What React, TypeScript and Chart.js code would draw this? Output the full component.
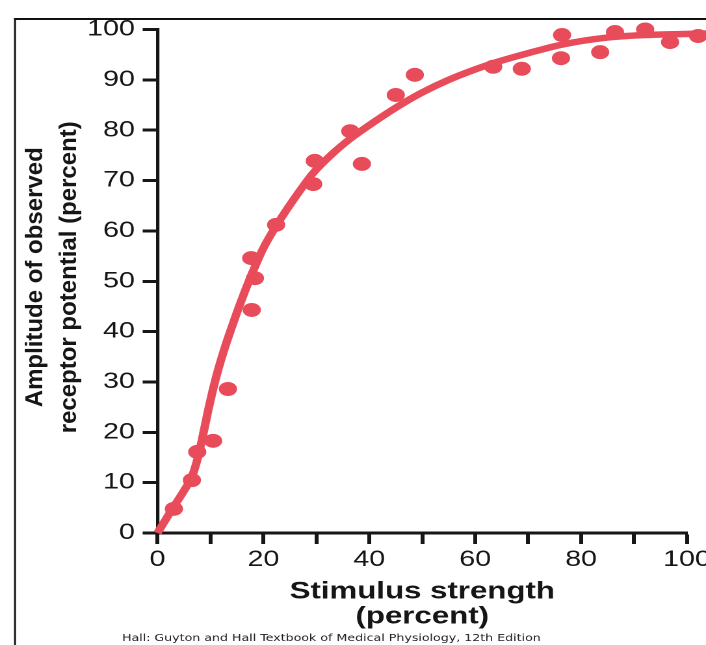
import React, { useEffect, useRef } from 'react';
import { Chart, registerables } from 'chart.js';

Chart.register(...registerables);

// Horizontal stretch of the whole figure (the reference is stretched sideways)
const BASE_W = 543;
const S = 706 / BASE_W;

// Observed data points (stimulus %, amplitude %)
const pointX = [3.1, 6.5, 7.5, 10.5, 13.3, 17.7, 17.8, 18.4, 22.4, 29.4, 29.7, 36.4, 38.6, 45.0, 48.6, 63.4, 68.8, 76.2, 76.4, 83.6, 86.4, 92.1, 96.8, 102.1];
const pointY = [4.8, 10.5, 16.1, 18.3, 28.6, 54.6, 44.3, 50.6, 61.2, 69.3, 73.9, 79.8, 73.3, 87.0, 91.0, 92.6, 92.2, 94.3, 98.9, 95.5, 99.5, 100.0, 97.5, 98.7];

// Fitted curve
const curveX = [0, 2.8, 5.0, 6.5, 7.5, 8.5, 9.5, 10.5, 11.5, 12.5, 13.5, 15.0, 16.5, 18.0, 20.0, 22.6, 26.9, 29.4, 33.0, 36.4, 40.0, 45.2, 50.0, 55.2, 62.8, 70.0, 76.4, 84.9, 92.1, 103.6];
const curveY = [0, 4.8, 8.4, 11.2, 14.5, 19.0, 24.0, 28.6, 32.6, 36.1, 39.3, 43.8, 48.0, 51.9, 56.6, 61.3, 68.0, 71.5, 75.3, 78.3, 81.0, 84.6, 87.5, 90.1, 93.1, 95.3, 97.0, 98.4, 98.9, 99.2];

const xTickStep = 10;
const xLabelEvery = 20;
const yTickStep = 10;

const yTitleLines = ['Amplitude of observed', 'receptor potential (percent)'];
const xTitleLines = ['Stimulus strength', '(percent)'];
const caption = 'Hall: Guyton and Hall Textbook of Medical Physiology, 12th Edition';

const RED = '#e84c5b';
const INK = '#161616';
const SANS = '"Liberation Sans", Arial, Helvetica, sans-serif';

// lets marks past x = 100 (cut by the page edge in the reference) be drawn
const overflowPlugin = {
  id: 'overflow',
  beforeDatasetsDraw(chart: any) {
    chart.$savedRight = chart.chartArea.right;
    chart.chartArea.right = chart.width + 50;
  },
  afterDatasetsDraw(chart: any) {
    if (chart.$savedRight !== undefined) chart.chartArea.right = chart.$savedRight;
  },
};

const decorPlugin = {
  id: 'decor',
  afterDraw(chart: any) {
    const ctx = chart.ctx as CanvasRenderingContext2D;
    ctx.save();
    // frame (left and top edges)
    ctx.fillStyle = '#111';
    ctx.fillRect(15 / S - 0.75, 18, 1.5, chart.height - 18);
    ctx.fillRect(15 / S - 0.75, 18, chart.width, 2);

    // y-axis title (drawn unstretched)
    const ys = chart.scales.y;
    const cy = (ys.top + ys.bottom) / 2 - 4;
    ctx.fillStyle = INK;
    ctx.font = `bold 24px ${SANS}`;
    ctx.textAlign = 'center';
    ctx.textBaseline = 'alphabetic';
    const baselines = [42, 76];
    yTitleLines.forEach((t, i) => {
      ctx.save();
      ctx.translate(baselines[i] / S, cy);
      ctx.scale(1 / S, 1);
      ctx.rotate(-Math.PI / 2);
      ctx.fillText(t, 0, 0);
      ctx.restore();
    });

    // source caption
    ctx.font = `9.7px "DejaVu Sans", Verdana, sans-serif`;
    ctx.fillStyle = '#222';
    ctx.textAlign = 'left';
    ctx.fillText(caption, 122 / S, 641);
    ctx.restore();
  },
};

export default function App() {
  const ref = useRef<HTMLCanvasElement>(null);

  useEffect(() => {
    document.body.style.margin = '0';
    const points = pointX.map((x, i) => ({ x, y: pointY[i] }));
    const curve = curveX.map((x, i) => ({ x, y: curveY[i] }));

    const chart = new Chart(ref.current as HTMLCanvasElement, {
      type: 'scatter',
      data: {
        datasets: [
          {
            data: curve,
            showLine: true,
            borderColor: RED,
            borderWidth: 6.5,
            pointRadius: 0,
            cubicInterpolationMode: 'monotone',
            clip: false,
          } as any,
          {
            data: points,
            backgroundColor: RED,
            borderColor: RED,
            borderWidth: 1,
            pointRadius: 6.5,
            clip: false,
          } as any,
        ],
      },
      options: {
        animation: false,
        responsive: true,
        maintainAspectRatio: false,
        devicePixelRatio: 2,
        layout: { padding: { top: 29.5, right: BASE_W - 687 / S, left: 0, bottom: 0 } },
        plugins: { legend: { display: false }, tooltip: { enabled: false } },
        scales: {
          x: {
            type: 'linear',
            min: 0,
            max: 100,
            afterFit: (s: any) => {
              s.height = 645 - 533;
              s.paddingLeft = 0;
              s.paddingRight = 0;
            },
            ticks: {
              stepSize: xTickStep,
              autoSkip: false,
              maxRotation: 0,
              padding: 2.5,
              color: INK,
              font: { family: SANS, size: 22 },
              callback: (v: any) => (Number(v) % xLabelEvery === 0 ? String(v) : ''),
            },
            grid: { drawOnChartArea: false, tickLength: 11, tickWidth: 3, tickColor: INK },
            border: { display: true, color: INK, width: 3 },
            title: {
              display: true,
              text: xTitleLines,
              color: INK,
              font: { family: SANS, size: 24, weight: 'bold', lineHeight: '25px' } as any,
              padding: { top: 0, bottom: 15.8 },
            },
          },
          y: {
            type: 'linear',
            min: 0,
            max: 100,
            afterFit: (s: any) => {
              s.width = 157.5 / S;
              s.paddingTop = 0;
              s.paddingBottom = 0;
            },
            ticks: {
              stepSize: yTickStep,
              autoSkip: false,
              padding: 6,
              color: INK,
              font: { family: SANS, size: 22 },
            },
            grid: { drawOnChartArea: false, tickLength: 11.4, tickWidth: 3, tickColor: INK },
            border: { display: true, color: INK, width: 2.6 },
          },
        },
      },
      plugins: [overflowPlugin, decorPlugin],
    });
    return () => chart.destroy();
  }, []);

  return (
    <div style={{ position: 'fixed', left: 0, top: 0, width: '706px', height: '645px', overflow: 'hidden', background: '#fff' }}>
      <div
        style={{
          position: 'absolute',
          left: 0,
          top: 0,
          width: `${BASE_W}px`,
          height: '645px',
          transform: `scaleX(${S})`,
          transformOrigin: '0 0',
        }}
      >
        <canvas ref={ref} />
      </div>
    </div>
  );
}
